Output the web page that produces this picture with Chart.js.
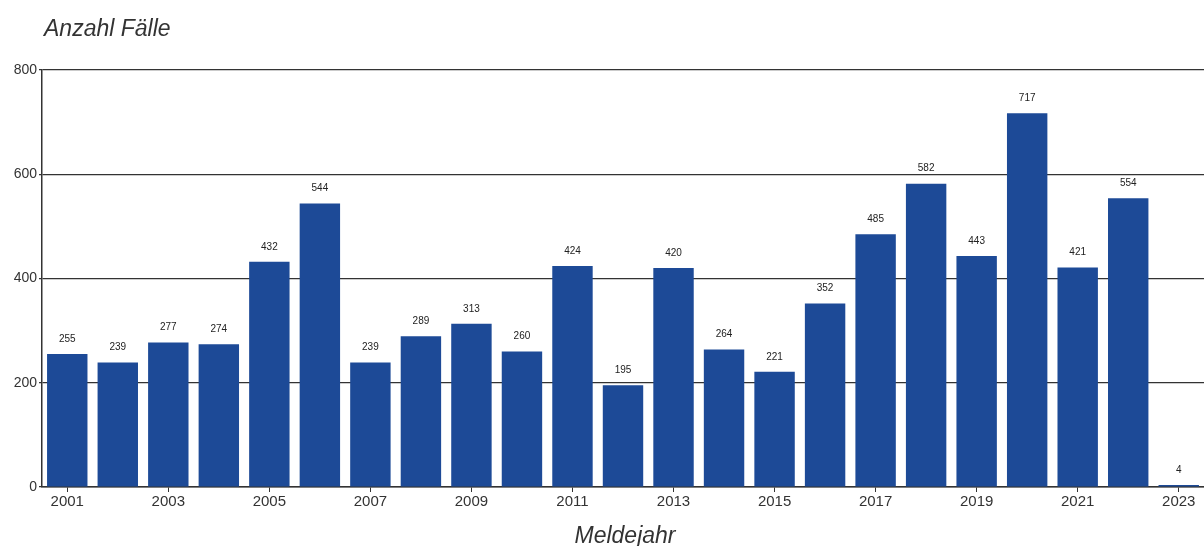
<!DOCTYPE html>
<html>
<head>
<meta charset="utf-8">
<script src="https://cdn.jsdelivr.net/npm/chart.js@4"></script>
<style>
  html, body { margin: 0; padding: 0; background: #fff; }
  #wrap { width: 1204px; height: 546px; }
</style>
</head>
<body>
<div id="wrap"><canvas id="chart-cases"></canvas></div>
<script>
var years = ['2001', '2002', '2003', '2004', '2005', '2006', '2007', '2008', '2009', '2010', '2011', '2012',
    '2013', '2014', '2015', '2016', '2017', '2018', '2019', '2020', '2021', '2022', '2023'];
var cases = [255, 239, 277, 274, 432, 544, 239, 289, 313, 260, 424, 195, 420, 264, 221, 352, 485, 582, 443, 717, 421, 554, 4];
var yTicks = [0, 200, 400, 600, 800];

var yTitle = 'Anzahl Fälle';
var xTitle = 'Meldejahr';
var fontFamily = "'Liberation Sans', Arial, sans-serif";

// draws the value above each bar plus the two italic axis titles
var labelPlugin = {
    id: 'labels',
    afterDatasetsDraw: function (chart) {
        var ctx = chart.ctx;
        var meta = chart.getDatasetMeta(0);
        ctx.save();
        ctx.fillStyle = '#222';
        ctx.font = '10px ' + fontFamily;
        ctx.textAlign = 'center';
        ctx.textBaseline = 'bottom';
        meta.data.forEach(function (bar, i) {
            ctx.fillText(cases[i], bar.x, bar.y - 10);
        });
        ctx.fillStyle = '#333';
        ctx.font = 'italic 23px ' + fontFamily;
        ctx.textAlign = 'left';
        ctx.textBaseline = 'alphabetic';
        ctx.fillText(yTitle, 44, 36);
        ctx.textAlign = 'center';
        ctx.fillText(xTitle, 625, 543);
        ctx.restore();
    }
};

var canvasCases = document.getElementById('chart-cases');

if (canvasCases) var chartCases = new Chart(canvasCases.getContext('2d'), {
    type: 'bar',
    data: {
        labels: years,
        datasets: [{
            data: cases,
            backgroundColor: '#1d4a97',
            borderWidth: 0,
            barPercentage: 0.8,
            categoryPercentage: 1.0
        }]
    },
    options: {
        responsive: true,
        maintainAspectRatio: false,
        animation: false,
        layout: {
            padding: { top: 70, right: 0, bottom: 34, left: 0 }
        },
        plugins: {
            legend: { display: false },
            title: { display: false },
            tooltip: { enabled: false }
        },
        scales: {
            x: {
                grid: {
                    offset: false,
                    drawOnChartArea: false,
                    drawTicks: true,
                    tickLength: 5,
                    tickColor: function (c) { return c.index % 2 === 0 ? '#333' : 'rgba(0,0,0,0)'; }
                },
                border: { display: true, color: '#333', width: 1.5 },
                ticks: {
                    autoSkip: false,
                    maxRotation: 0,
                    padding: 1,
                    color: '#333',
                    font: { family: fontFamily, size: 15 },
                    callback: function (val, i) { return i % 2 === 0 ? years[i] : ''; }
                }
            },
            y: {
                min: 0,
                max: 800,
                afterBuildTicks: function (axis) {
                    axis.ticks = yTicks.map(function (v) { return { value: v }; });
                },
                afterFit: function (axis) { axis.width = 42; },
                grid: {
                    color: '#333',
                    lineWidth: 1.2,
                    tickLength: 3
                },
                border: { display: true, color: '#333', width: 1.5 },
                ticks: {
                    padding: 2,
                    color: '#333',
                    font: { family: fontFamily, size: 14 }
                }
            }
        }
    },
    plugins: [labelPlugin]
});
</script>
</body>
</html>
